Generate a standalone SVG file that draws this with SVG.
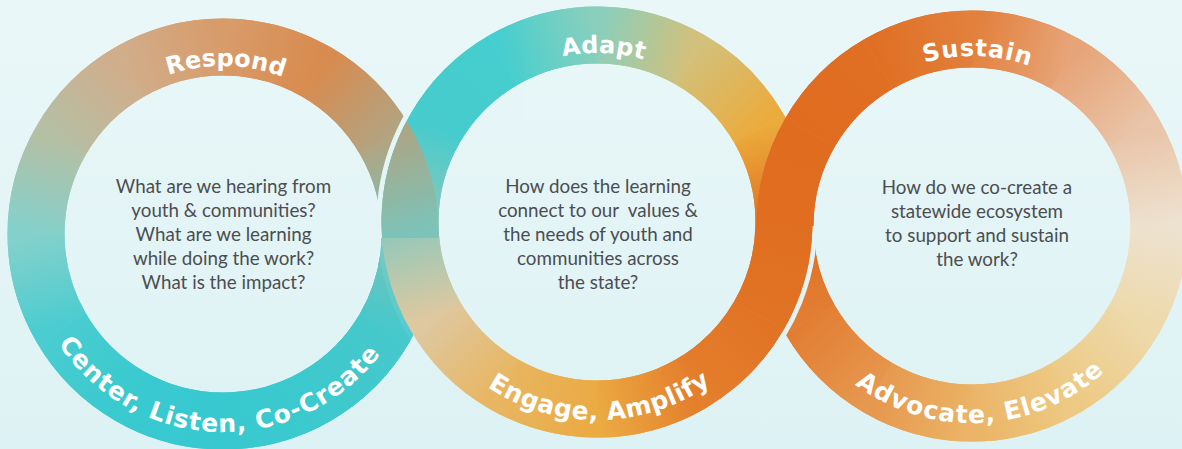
<svg xmlns="http://www.w3.org/2000/svg" width="1182" height="449" viewBox="0 0 1182 449">
<style>
.seg{fill:none;stroke-width:57}
.gap{fill:none;stroke:url(#bg);stroke-width:67}
.lbl{font-family:"DejaVu Sans",sans-serif;font-weight:bold;font-size:24px;fill:#ffffff}
.lblb{font-family:"DejaVu Sans",sans-serif;font-weight:bold;font-size:25px;fill:#ffffff}
.q{font-family:Lato,"Open Sans",sans-serif;font-size:18.8px;fill:#4c4d51;text-anchor:middle}
</style>
<defs>
<linearGradient id="bg" gradientUnits="userSpaceOnUse" x1="0" y1="0" x2="0" y2="449"><stop offset="0" stop-color="#eaf7f8"/><stop offset="1" stop-color="#ddf2f4"/></linearGradient>
<linearGradient id="g1_0" gradientUnits="userSpaceOnUse" x1="410" y1="234" x2="384.95" y2="327.5"><stop offset="0" stop-color="#7ac3b9"/><stop offset="1" stop-color="#48c8cb"/></linearGradient>
<linearGradient id="g1_1" gradientUnits="userSpaceOnUse" x1="384.95" y1="327.5" x2="316.5" y2="395.95"><stop offset="0" stop-color="#48c8cb"/><stop offset="1" stop-color="#3dc9ce"/></linearGradient>
<linearGradient id="g1_2" gradientUnits="userSpaceOnUse" x1="316.5" y1="395.95" x2="223" y2="421"><stop offset="0" stop-color="#3dc9ce"/><stop offset="1" stop-color="#37c9cf"/></linearGradient>
<linearGradient id="g1_3" gradientUnits="userSpaceOnUse" x1="223" y1="421" x2="129.5" y2="395.95"><stop offset="0" stop-color="#37c9cf"/><stop offset="1" stop-color="#38cacf"/></linearGradient>
<linearGradient id="g1_4" gradientUnits="userSpaceOnUse" x1="129.5" y1="395.95" x2="61.05" y2="327.5"><stop offset="0" stop-color="#38cacf"/><stop offset="1" stop-color="#4accd0"/></linearGradient>
<linearGradient id="g1_5" gradientUnits="userSpaceOnUse" x1="61.05" y1="327.5" x2="36" y2="234"><stop offset="0" stop-color="#4accd0"/><stop offset="1" stop-color="#84d1cb"/></linearGradient>
<linearGradient id="g1_6" gradientUnits="userSpaceOnUse" x1="36" y1="234" x2="61.05" y2="140.5"><stop offset="0" stop-color="#84d1cb"/><stop offset="1" stop-color="#b5bfa4"/></linearGradient>
<linearGradient id="g1_7" gradientUnits="userSpaceOnUse" x1="61.05" y1="140.5" x2="129.5" y2="72.05"><stop offset="0" stop-color="#b5bfa4"/><stop offset="1" stop-color="#d1ad8a"/></linearGradient>
<linearGradient id="g1_8" gradientUnits="userSpaceOnUse" x1="129.5" y1="72.05" x2="223" y2="47"><stop offset="0" stop-color="#d1ad8a"/><stop offset="1" stop-color="#d89b6a"/></linearGradient>
<linearGradient id="g1_9" gradientUnits="userSpaceOnUse" x1="223" y1="47" x2="316.5" y2="72.05"><stop offset="0" stop-color="#d89b6a"/><stop offset="1" stop-color="#d88b4e"/></linearGradient>
<linearGradient id="g1_10" gradientUnits="userSpaceOnUse" x1="316.5" y1="72.05" x2="384.95" y2="140.5"><stop offset="0" stop-color="#d88b4e"/><stop offset="1" stop-color="#b2a482"/></linearGradient>
<linearGradient id="g1_11" gradientUnits="userSpaceOnUse" x1="384.95" y1="140.5" x2="410" y2="234"><stop offset="0" stop-color="#b2a482"/><stop offset="1" stop-color="#7ac3b9"/></linearGradient>
<linearGradient id="g2_0" gradientUnits="userSpaceOnUse" x1="784" y1="222" x2="758.95" y2="315.5"><stop offset="0" stop-color="#e06e20"/><stop offset="1" stop-color="#e17325"/></linearGradient>
<linearGradient id="g2_1" gradientUnits="userSpaceOnUse" x1="758.95" y1="315.5" x2="690.5" y2="383.95"><stop offset="0" stop-color="#e17325"/><stop offset="1" stop-color="#e47f2c"/></linearGradient>
<linearGradient id="g2_2" gradientUnits="userSpaceOnUse" x1="690.5" y1="383.95" x2="597" y2="409"><stop offset="0" stop-color="#e47f2c"/><stop offset="1" stop-color="#ebaa42"/></linearGradient>
<linearGradient id="g2_3" gradientUnits="userSpaceOnUse" x1="597" y1="409" x2="503.5" y2="383.95"><stop offset="0" stop-color="#ebaa42"/><stop offset="1" stop-color="#e8b662"/></linearGradient>
<linearGradient id="g2_4" gradientUnits="userSpaceOnUse" x1="503.5" y1="383.95" x2="435.05" y2="315.5"><stop offset="0" stop-color="#e8b662"/><stop offset="1" stop-color="#dec8a0"/></linearGradient>
<linearGradient id="g2_5" gradientUnits="userSpaceOnUse" x1="435.05" y1="315.5" x2="410" y2="222"><stop offset="0" stop-color="#dec8a0"/><stop offset="1" stop-color="#8ec8bc"/></linearGradient>
<linearGradient id="g2_6" gradientUnits="userSpaceOnUse" x1="410" y1="222" x2="435.05" y2="128.5"><stop offset="0" stop-color="#8ec8bc"/><stop offset="1" stop-color="#48cbcc"/></linearGradient>
<linearGradient id="g2_7" gradientUnits="userSpaceOnUse" x1="435.05" y1="128.5" x2="503.5" y2="60.05"><stop offset="0" stop-color="#48cbcc"/><stop offset="1" stop-color="#46cfd0"/></linearGradient>
<linearGradient id="g2_8" gradientUnits="userSpaceOnUse" x1="503.5" y1="60.05" x2="597" y2="35"><stop offset="0" stop-color="#46cfd0"/><stop offset="1" stop-color="#8acfbc"/></linearGradient>
<linearGradient id="g2_9" gradientUnits="userSpaceOnUse" x1="597" y1="35" x2="690.5" y2="60.05"><stop offset="0" stop-color="#8acfbc"/><stop offset="1" stop-color="#d3c07a"/></linearGradient>
<linearGradient id="g2_10" gradientUnits="userSpaceOnUse" x1="690.5" y1="60.05" x2="758.95" y2="128.5"><stop offset="0" stop-color="#d3c07a"/><stop offset="1" stop-color="#ebab3c"/></linearGradient>
<linearGradient id="g2_11" gradientUnits="userSpaceOnUse" x1="758.95" y1="128.5" x2="784" y2="222"><stop offset="0" stop-color="#ebab3c"/><stop offset="1" stop-color="#e06e20"/></linearGradient>
<linearGradient id="g3_0" gradientUnits="userSpaceOnUse" x1="1159" y1="226" x2="1133.95" y2="319.5"><stop offset="0" stop-color="#ede2d0"/><stop offset="1" stop-color="#edd9aa"/></linearGradient>
<linearGradient id="g3_1" gradientUnits="userSpaceOnUse" x1="1133.95" y1="319.5" x2="1065.5" y2="387.95"><stop offset="0" stop-color="#edd9aa"/><stop offset="1" stop-color="#edca84"/></linearGradient>
<linearGradient id="g3_2" gradientUnits="userSpaceOnUse" x1="1065.5" y1="387.95" x2="972" y2="413"><stop offset="0" stop-color="#edca84"/><stop offset="1" stop-color="#ebb466"/></linearGradient>
<linearGradient id="g3_3" gradientUnits="userSpaceOnUse" x1="972" y1="413" x2="878.5" y2="387.95"><stop offset="0" stop-color="#ebb466"/><stop offset="1" stop-color="#e6984e"/></linearGradient>
<linearGradient id="g3_4" gradientUnits="userSpaceOnUse" x1="878.5" y1="387.95" x2="810.05" y2="319.5"><stop offset="0" stop-color="#e6984e"/><stop offset="1" stop-color="#e27e34"/></linearGradient>
<linearGradient id="g3_5" gradientUnits="userSpaceOnUse" x1="810.05" y1="319.5" x2="785" y2="226"><stop offset="0" stop-color="#e27e34"/><stop offset="1" stop-color="#e06d20"/></linearGradient>
<linearGradient id="g3_6" gradientUnits="userSpaceOnUse" x1="785" y1="226" x2="810.05" y2="132.5"><stop offset="0" stop-color="#e06d20"/><stop offset="1" stop-color="#e06c20"/></linearGradient>
<linearGradient id="g3_7" gradientUnits="userSpaceOnUse" x1="810.05" y1="132.5" x2="878.5" y2="64.05"><stop offset="0" stop-color="#e06c20"/><stop offset="1" stop-color="#e06f23"/></linearGradient>
<linearGradient id="g3_8" gradientUnits="userSpaceOnUse" x1="878.5" y1="64.05" x2="972" y2="39"><stop offset="0" stop-color="#e06f23"/><stop offset="1" stop-color="#e2803c"/></linearGradient>
<linearGradient id="g3_9" gradientUnits="userSpaceOnUse" x1="972" y1="39" x2="1065.5" y2="64.05"><stop offset="0" stop-color="#e2803c"/><stop offset="1" stop-color="#e7a478"/></linearGradient>
<linearGradient id="g3_10" gradientUnits="userSpaceOnUse" x1="1065.5" y1="64.05" x2="1133.95" y2="132.5"><stop offset="0" stop-color="#e7a478"/><stop offset="1" stop-color="#e9c4a8"/></linearGradient>
<linearGradient id="g3_11" gradientUnits="userSpaceOnUse" x1="1133.95" y1="132.5" x2="1159" y2="226"><stop offset="0" stop-color="#e9c4a8"/><stop offset="1" stop-color="#ede2d0"/></linearGradient>

<g id="p1">
<path class="seg" stroke="url(#g1_0)" d="M410 234A187 187 0 0 1 384.95 327.5"/>
<path class="seg" stroke="url(#g1_1)" d="M384.95 327.5A187 187 0 0 1 316.5 395.95"/>
<path class="seg" stroke="url(#g1_2)" d="M316.5 395.95A187 187 0 0 1 223 421"/>
<path class="seg" stroke="url(#g1_3)" d="M223 421A187 187 0 0 1 129.5 395.95"/>
<path class="seg" stroke="url(#g1_4)" d="M129.5 395.95A187 187 0 0 1 61.05 327.5"/>
<path class="seg" stroke="url(#g1_5)" d="M61.05 327.5A187 187 0 0 1 36 234"/>
<path class="seg" stroke="url(#g1_6)" d="M36 234A187 187 0 0 1 61.05 140.5"/>
<path class="seg" stroke="url(#g1_7)" d="M61.05 140.5A187 187 0 0 1 129.5 72.05"/>
<path class="seg" stroke="url(#g1_8)" d="M129.5 72.05A187 187 0 0 1 223 47"/>
<path class="seg" stroke="url(#g1_9)" d="M223 47A187 187 0 0 1 316.5 72.05"/>
<path class="seg" stroke="url(#g1_10)" d="M316.5 72.05A187 187 0 0 1 384.95 140.5"/>
<path class="seg" stroke="url(#g1_11)" d="M384.95 140.5A187 187 0 0 1 410 234"/>
</g>
<g id="p2">
<path class="seg" stroke="url(#g2_0)" d="M784 222A187 187 0 0 1 758.95 315.5"/>
<path class="seg" stroke="url(#g2_1)" d="M758.95 315.5A187 187 0 0 1 690.5 383.95"/>
<path class="seg" stroke="url(#g2_2)" d="M690.5 383.95A187 187 0 0 1 597 409"/>
<path class="seg" stroke="url(#g2_3)" d="M597 409A187 187 0 0 1 503.5 383.95"/>
<path class="seg" stroke="url(#g2_4)" d="M503.5 383.95A187 187 0 0 1 435.05 315.5"/>
<path class="seg" stroke="url(#g2_5)" d="M435.05 315.5A187 187 0 0 1 410 222"/>
<path class="seg" stroke="url(#g2_6)" d="M410 222A187 187 0 0 1 435.05 128.5"/>
<path class="seg" stroke="url(#g2_7)" d="M435.05 128.5A187 187 0 0 1 503.5 60.05"/>
<path class="seg" stroke="url(#g2_8)" d="M503.5 60.05A187 187 0 0 1 597 35"/>
<path class="seg" stroke="url(#g2_9)" d="M597 35A187 187 0 0 1 690.5 60.05"/>
<path class="seg" stroke="url(#g2_10)" d="M690.5 60.05A187 187 0 0 1 758.95 128.5"/>
<path class="seg" stroke="url(#g2_11)" d="M758.95 128.5A187 187 0 0 1 784 222"/>
</g>
<g id="p3">
<path class="seg" stroke="url(#g3_0)" d="M1159 226A187 187 0 0 1 1133.95 319.5"/>
<path class="seg" stroke="url(#g3_1)" d="M1133.95 319.5A187 187 0 0 1 1065.5 387.95"/>
<path class="seg" stroke="url(#g3_2)" d="M1065.5 387.95A187 187 0 0 1 972 413"/>
<path class="seg" stroke="url(#g3_3)" d="M972 413A187 187 0 0 1 878.5 387.95"/>
<path class="seg" stroke="url(#g3_4)" d="M878.5 387.95A187 187 0 0 1 810.05 319.5"/>
<path class="seg" stroke="url(#g3_5)" d="M810.05 319.5A187 187 0 0 1 785 226"/>
<path class="seg" stroke="url(#g3_6)" d="M785 226A187 187 0 0 1 810.05 132.5"/>
<path class="seg" stroke="url(#g3_7)" d="M810.05 132.5A187 187 0 0 1 878.5 64.05"/>
<path class="seg" stroke="url(#g3_8)" d="M878.5 64.05A187 187 0 0 1 972 39"/>
<path class="seg" stroke="url(#g3_9)" d="M972 39A187 187 0 0 1 1065.5 64.05"/>
<path class="seg" stroke="url(#g3_10)" d="M1065.5 64.05A187 187 0 0 1 1133.95 132.5"/>
<path class="seg" stroke="url(#g3_11)" d="M1133.95 132.5A187 187 0 0 1 1159 226"/>
</g>
<g id="p1d"><use href="#p1"/><use href="#p1"/></g>
<g id="p2d"><use href="#p2"/><use href="#p2"/></g>
<g id="p3d"><use href="#p3"/><use href="#p3"/></g>

<clipPath id="c1">
<path clip-rule="evenodd" d="M381.5 222A215.5 215.5 0 1 0 812.5 222A215.5 215.5 0 1 0 381.5 222ZM438.5 222A158.5 158.5 0 1 0 755.5 222A158.5 158.5 0 1 0 438.5 222Z"/>
<rect x="300" y="238" width="200" height="211"/>
</clipPath>
<clipPath id="c2"><rect x="700" y="226" width="200" height="223"/></clipPath>

<path id="t1" d="M66.16 173.79A168 168 0 0 1 381.85 179.3"/>
<path id="t2" d="M440.53 158.14A169 169 0 0 1 757.91 170.34"/>
<path id="t3" d="M814.27 162.59A170 170 0 0 1 1133.58 173.18"/>
<path id="b1" d="M29.11 193.85A198 198 0 1 0 418.93 205.42"/>
<path id="b2" d="M401.55 190.34A198 198 0 1 0 791.49 184.9"/>
<path id="b3" d="M776.47 201.99A197 197 0 1 0 1163.95 181.68"/>
</defs>

<rect x="0" y="0" width="1182" height="449" fill="url(#bg)"/>

<g id="rings">
<g id="ring-respond"><use href="#p1d"/></g>
<g id="ring-adapt"><circle class="gap" cx="597" cy="222" r="187"/><use href="#p2d"/></g>
<g id="ring-sustain"><use href="#p3d"/></g>
<g id="ring-overlaps">
<g clip-path="url(#c2)"><circle class="gap" cx="597" cy="222" r="187"/><use href="#p2d"/></g>
<g clip-path="url(#c1)" opacity="0.92"><use href="#p1d"/></g>
</g>
</g>

<g id="connectors"/>

<g id="node-respond">
<text class="lbl"><textPath href="#t1" startOffset="50%" text-anchor="middle">Respond</textPath></text>
<text class="lblb" letter-spacing="1"><textPath href="#b1" startOffset="50%" text-anchor="middle">Center, Listen, Co-Create</textPath></text>
<text class="q" x="223.5" y="192.5">What are we hearing from</text>
<text class="q" x="223.5" y="216.5">youth &amp; communities?</text>
<text class="q" x="223.5" y="240.5">What are we learning</text>
<text class="q" x="223.5" y="264.5">while doing the work?</text>
<text class="q" x="223.5" y="288.5">What is the impact?</text>
</g>

<g id="node-adapt">
<text class="lbl" letter-spacing="0.3"><textPath href="#t2" startOffset="50%" text-anchor="middle">Adapt</textPath></text>
<text class="lblb" letter-spacing="0.5"><textPath href="#b2" startOffset="50%" text-anchor="middle">Engage, Amplify</textPath></text>
<text class="q" x="598" y="192.5">How does the learning</text>
<text class="q" x="598" y="216.5" xml:space="preserve">connect to our  values &amp;</text>
<text class="q" x="598" y="240.5">the needs of youth and</text>
<text class="q" x="598" y="264.5">communities across</text>
<text class="q" x="598" y="288.5">the state?</text>
</g>

<g id="node-sustain">
<text class="lbl" letter-spacing="0.8"><textPath href="#t3" startOffset="50%" text-anchor="middle">Sustain</textPath></text>
<text class="lblb" letter-spacing="1"><textPath href="#b3" startOffset="50%" text-anchor="middle">Advocate, Elevate</textPath></text>
<text class="q" x="977" y="193.5">How do we co-create a</text>
<text class="q" x="977" y="217.5">statewide ecosystem</text>
<text class="q" x="977" y="241.5">to support and sustain</text>
<text class="q" x="977" y="265.5">the work?</text>
</g>
</svg>
